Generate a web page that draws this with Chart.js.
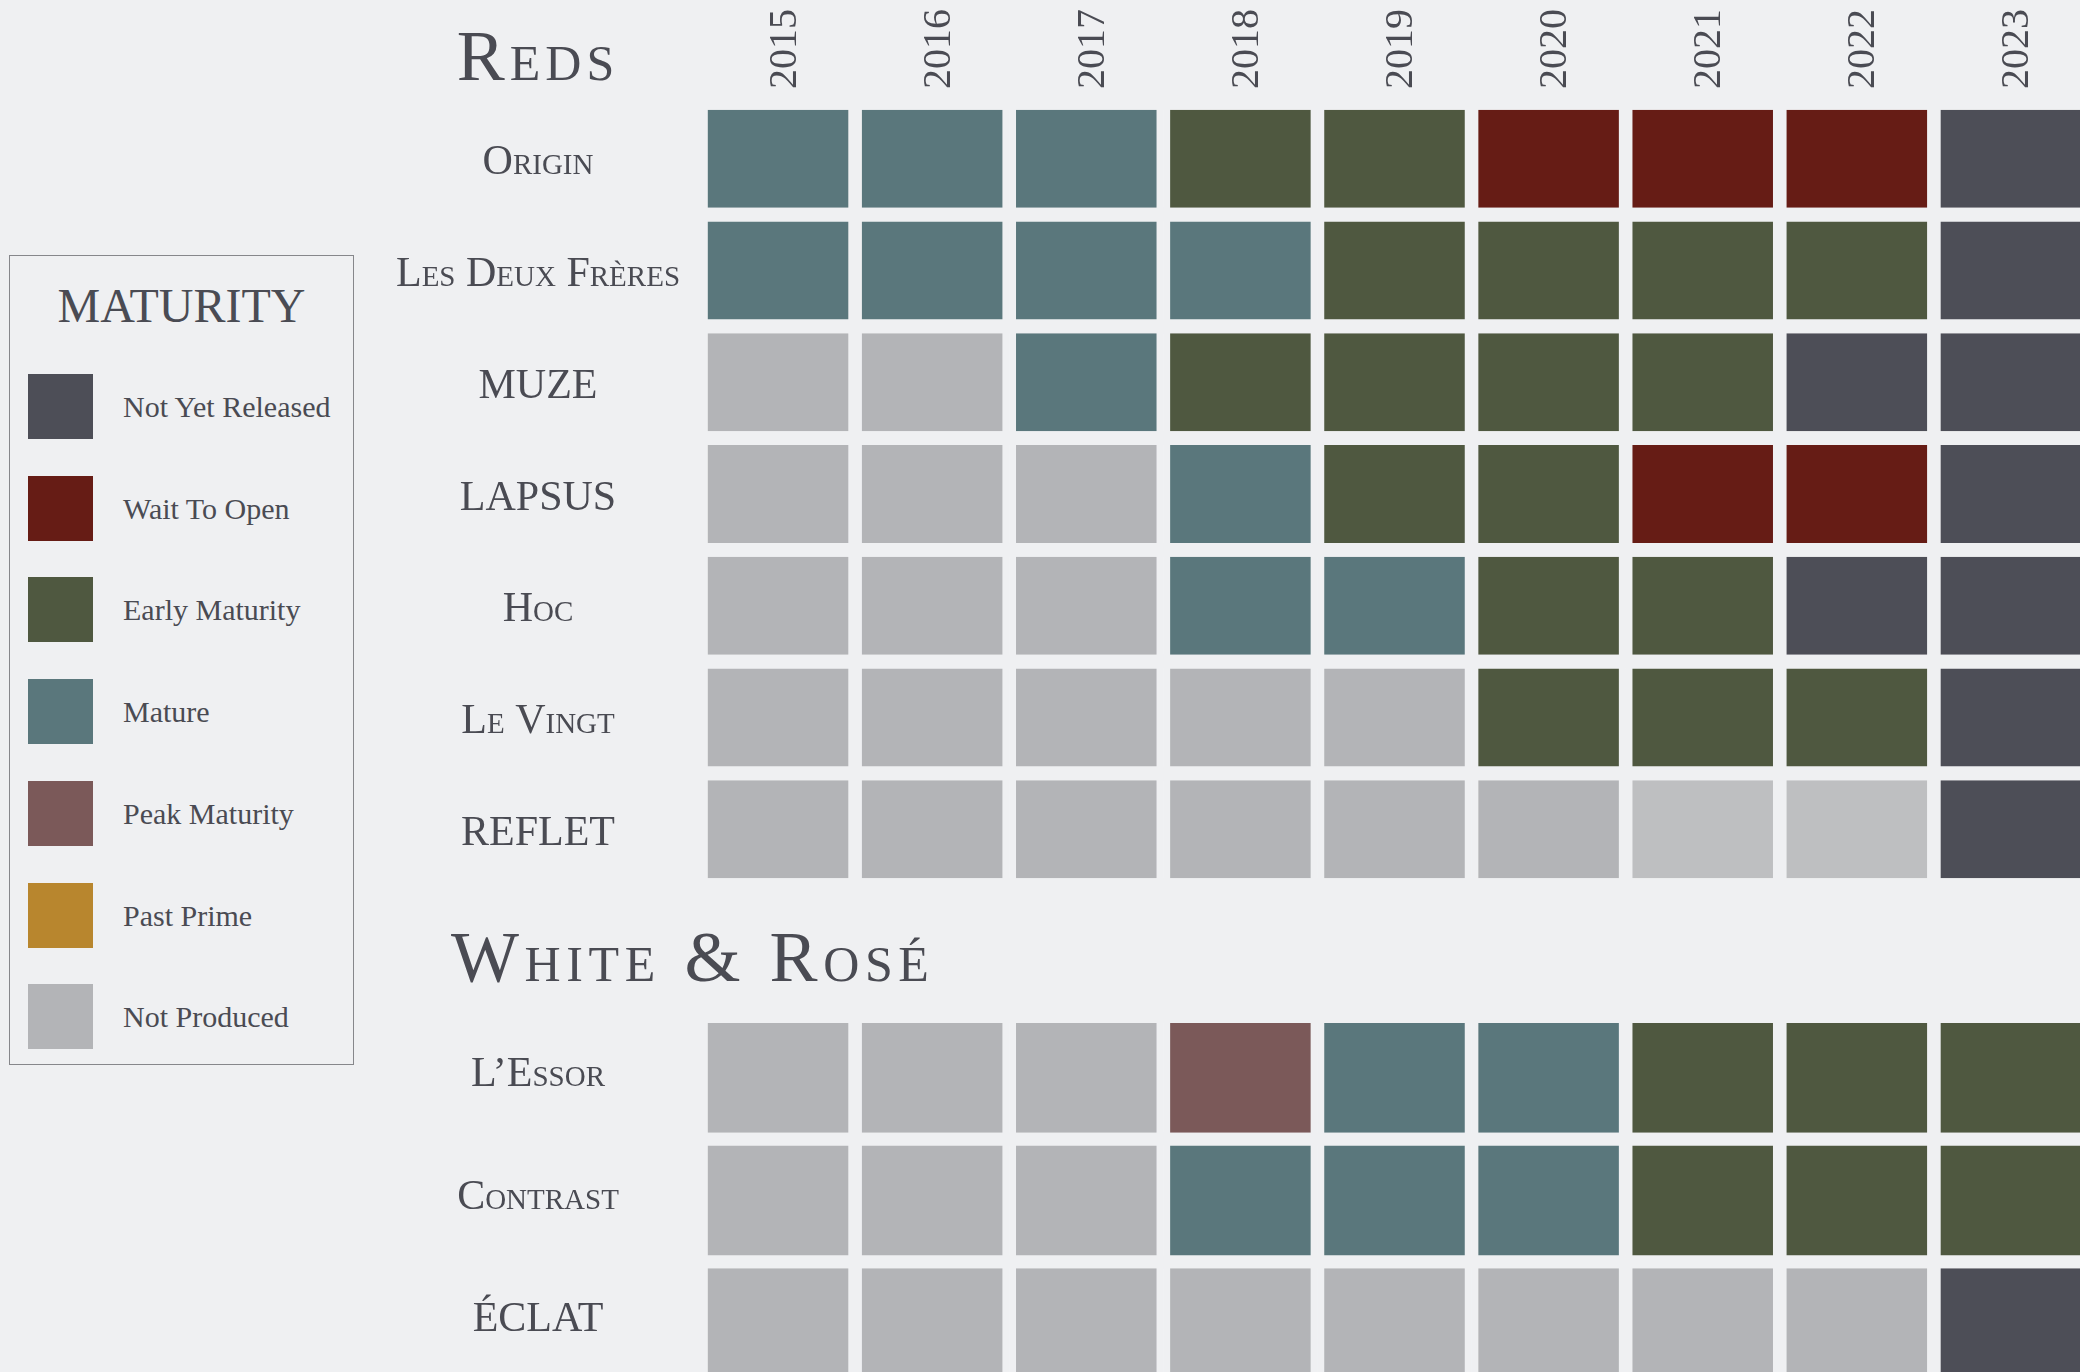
<!DOCTYPE html>
<html>
<head>
<meta charset="utf-8">
<script src="https://cdn.jsdelivr.net/npm/chart.js@4.4.1/dist/chart.umd.min.js"></script>
<style>
  html, body { margin: 0; padding: 0; width: 2080px; height: 1372px; overflow: hidden; background: #eff0f2; }
  body { position: relative; font-family: 'Liberation Serif', serif; color: #4a4b53; }
  canvas { position: absolute; left: 360px; }
  #reds { top: 0; }
  #whites { top: 1000px; }
  .title { position: absolute; font-variant: small-caps; font-size: 72px; letter-spacing: 5px; line-height: 1; white-space: nowrap; }
  #redsTitle { left: 538px; top: 56px; transform: translate(-50%, -50%); }
  #whiteTitle { left: 451px; top: 957px; transform: translateY(-50%); letter-spacing: 5.6px; }
  #legend { position: absolute; left: 9px; top: 255px; width: 343px; height: 808px; border: 1px solid #86878b; }
  #legend .ltitle { position: absolute; left: 0; right: 0; top: 26px; text-align: center; font-size: 48px; line-height: 1; }
  .item { position: absolute; left: 18px; height: 65px; }
  .item .sw { position: absolute; left: 0; top: 0; width: 65px; height: 65px; }
  .item .tx { position: absolute; left: 95px; top: 0; line-height: 65px; font-size: 30px; white-space: nowrap; }
</style>
</head>
<body>
<div class="title" id="redsTitle">Reds</div>
<div class="title" id="whiteTitle">White &amp; Rosé</div>
<div id="legend"><div class="ltitle">MATURITY</div></div>
<canvas id="reds" width="1740" height="890"></canvas>
<canvas id="whites" width="1740" height="390"></canvas>
<script>
// vintages across the top
const years = ['2015', '2016', '2017', '2018', '2019', '2020', '2021', '2022', '2023'];

// maturity states (legend order)
const statusCodes = ['NYR', 'WTO', 'EM', 'M', 'PM', 'PP', 'NP'];
const statusNames = ['Not Yet Released', 'Wait To Open', 'Early Maturity', 'Mature', 'Peak Maturity', 'Past Prime', 'Not Produced'];
const statusColors = ['#4d4e57', '#661c15', '#4f5840', '#5a777c', '#7b5959', '#b8862e', '#b3b4b7'];

// reds, one array per wine, 2015 -> 2023
const redWines = ['Origin', 'Les Deux Frères', 'MUZE', 'LAPSUS', 'Hoc', 'Le Vingt', 'REFLET'];
const origin = ['M', 'M', 'M', 'EM', 'EM', 'WTO', 'WTO', 'WTO', 'NYR'];
const deuxFreres = ['M', 'M', 'M', 'M', 'EM', 'EM', 'EM', 'EM', 'NYR'];
const muze = ['NP', 'NP', 'M', 'EM', 'EM', 'EM', 'EM', 'NYR', 'NYR'];
const lapsus = ['NP', 'NP', 'NP', 'M', 'EM', 'EM', 'WTO', 'WTO', 'NYR'];
const hoc = ['NP', 'NP', 'NP', 'M', 'M', 'EM', 'EM', 'NYR', 'NYR'];
const leVingt = ['NP', 'NP', 'NP', 'NP', 'NP', 'EM', 'EM', 'EM', 'NYR'];
const reflet = ['NP', 'NP', 'NP', 'NP', 'NP', 'NP', 'NPL', 'NPL', 'NYR'];

// white & rosé
const whiteWines = ['L’Essor', 'Contrast', 'ÉCLAT'];
const essor = ['NP', 'NP', 'NP', 'PM', 'M', 'M', 'EM', 'EM', 'EM'];
const contrast = ['NP', 'NP', 'NP', 'M', 'M', 'M', 'EM', 'EM', 'EM'];
const eclat = ['NP', 'NP', 'NP', 'NP', 'NP', 'NP', 'NP', 'NP', 'NYR'];

const BG = '#eff0f2';
const INK = '#4a4b53';
const SERIF = "'Liberation Serif', serif";
const NAME_SPACING = '2px';

const colorOf = {};
statusCodes.forEach((c, i) => { colorOf[c] = statusColors[i]; });
colorOf.NPL = '#bebfc1'; // the two paler reflet cells

// legend box
const legend = document.getElementById('legend');
statusNames.forEach((name, i) => {
  const item = document.createElement('div');
  item.className = 'item';
  item.style.top = (118 + i * 101.7) + 'px';
  item.innerHTML = '<div class="sw" style="background:' + statusColors[i] + '"></div><div class="tx">' + name + '</div>';
  legend.appendChild(item);
});

function widest(labels, font) {
  const ctx = document.createElement('canvas').getContext('2d');
  ctx.font = font;
  ctx.letterSpacing = NAME_SPACING;
  return Math.max(...labels.map(l => ctx.measureText(l).width));
}

// wine names get a little letter spacing, the years none
// (y labels are drawn after the bars because the y scale sits on z 1)
const nameSpacing = {
  id: 'nameSpacing',
  beforeUpdate: chart => { chart.ctx.letterSpacing = NAME_SPACING; },
  beforeDraw: chart => { chart.ctx.letterSpacing = '0px'; },
  afterDatasetsDraw: chart => { chart.ctx.letterSpacing = NAME_SPACING; },
  afterDraw: chart => { chart.ctx.letterSpacing = '0px'; }
};

function makeGrid(id, wines, rows, opts) {
  const labelSize = 42;
  const w = widest(wines, 'small-caps ' + labelSize + 'px ' + SERIF);
  // keeps the wine names centred on x = 538 of the page
  const pad = Math.max(0, 163 - w / 2);

  const datasets = years.map((yr, j) => ({
    label: yr,
    data: wines.map(() => 1),
    backgroundColor: rows.map(r => colorOf[r[j]]),
    borderColor: BG,
    borderWidth: { left: 6.8, right: 6.8, top: 0, bottom: 0 },
    borderSkipped: false,
    barPercentage: opts.barPct,
    categoryPercentage: 1
  }));

  return new Chart(document.getElementById(id), {
    type: 'bar',
    data: { labels: wines, datasets: datasets },
    plugins: [nameSpacing],
    options: {
      indexAxis: 'y',
      responsive: false,
      animation: false,
      events: [],
      layout: { padding: opts.padding },
      plugins: { legend: { display: false }, tooltip: { enabled: false } },
      scales: {
        x: {
          type: 'linear',
          position: 'top',
          stacked: true,
          min: 0,
          max: years.length,
          display: opts.showYears,
          grid: { display: false, drawTicks: false },
          border: { display: false },
          afterBuildTicks: s => { s.ticks = years.map((_, i) => ({ value: i + 0.5 })); },
          afterFit: s => { if (opts.showYears) s.height = 103; },
          ticks: {
            autoSkip: false,
            minRotation: 90,
            maxRotation: 90,
            padding: 14,
            labelOffset: 7,
            color: INK,
            font: { family: SERIF, size: 40, lineHeight: 0 },
            callback: (v, i) => years[i]
          }
        },
        y: {
          stacked: true,
          z: 1,
          grid: { display: false, drawTicks: false },
          border: { display: false },
          afterFit: s => {
            s.width = 341;
            s.paddingTop = 0;
            s.paddingBottom = 0;
          },
          ticks: {
            crossAlign: 'center',
            padding: pad,
            labelOffset: opts.nameShift,
            color: INK,
            font: { family: SERIF, size: labelSize, weight: 'small-caps' }
          }
        }
      }
    }
  });
}

makeGrid('reds', redWines, [origin, deuxFreres, muze, lapsus, hoc, leVingt, reflet], {
  barPct: 0.877, showYears: true, nameShift: 4.5, padding: { top: 0, right: 12, bottom: 5, left: 0 }
});
makeGrid('whites', whiteWines, [essor, contrast, eclat], {
  barPct: 0.895, showYears: false, nameShift: -3, padding: { top: 16.5, right: 12, bottom: 5.5, left: 0 }
});
</script>
</body>
</html>
